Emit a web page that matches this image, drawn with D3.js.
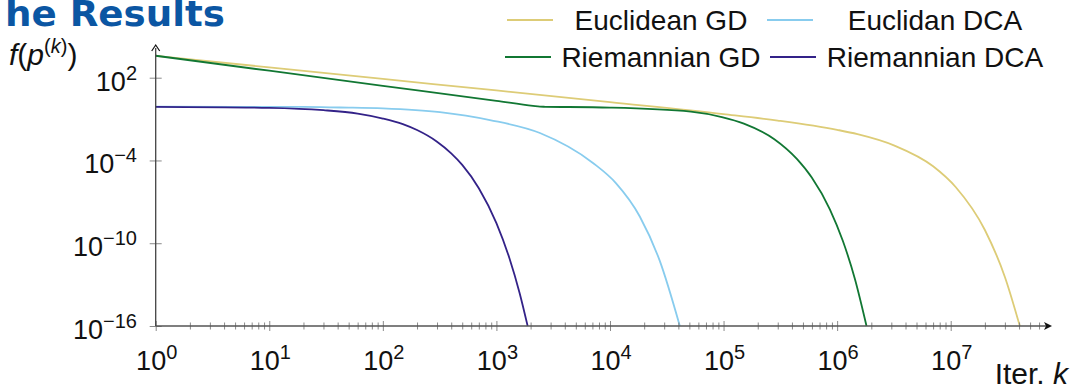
<!DOCTYPE html>
<html><head><meta charset="utf-8">
<script src="https://cdn.jsdelivr.net/npm/d3@7"></script>
<style>
body{margin:0;background:#fff}
svg{display:block}
text{font-family:"Liberation Sans",Arial,sans-serif;fill:#111}
</style>
</head><body>
<svg id="chart" width="1072" height="390"></svg>
<script>
// ---------------- data ----------------
const seriesNames  = ["Euclidean GD", "Euclidan DCA", "Riemannian GD", "Riemannian DCA"];
const seriesColors = ["#DDCC77", "#88CCEE", "#117733", "#332288"];

const kEuclidGD = [1, 10, 100, 1000, 10000, 100000, 300000, 1000000, 1510000, 3200000, 7000000, 11100000, 20000000, 30000000, 40600000];
const fEuclidGD = [3.9e3, 5.6e2, 8.1e1, 1.2e1, 1.69, 2.3e-1, 7.8e-2, 1.66e-2, 8.1e-3, 1.2e-3, 3.8e-5, 1.15e-6, 9.1e-10, 3.6e-13, 1e-16];

const kEuclidDCA = [1, 20, 42, 100, 318, 877, 2415, 7080, 11270, 18300, 27500, 41200];
const fEuclidDCA = [7.9e-1, 7.6e-1, 6.9e-1, 6.0e-1, 3.2e-1, 8.5e-2, 9.8e-3, 6.6e-5, 2.3e-6, 8.7e-9, 5.0e-12, 1e-16];

const kRiemGD = [1, 10, 100, 1000, 2100, 2415, 2700, 10000, 51500, 96600, 151000, 280000, 442000, 598000, 863000, 1122000, 1432000, 1815000];
const fRiemGD = [3.9e3, 3.2e2, 2.6e1, 2.1, 9.0e-1, 7.9e-1, 7.8e-1, 6.8e-1, 3.5e-1, 1.4e-1, 4.7e-2, 3.5e-3, 1.3e-4, 5.8e-6, 2.9e-8, 1.5e-10, 2.7e-13, 1e-16];

const kRiemDCA = [1, 10, 30, 60, 100, 150, 200, 300, 400, 500, 700, 1000, 1300, 1600, 1884];
const fRiemDCA = [7.8e-1, 6.5e-1, 4.4e-1, 2.5e-1, 1.1e-1, 4.3e-2, 1.6e-2, 2.3e-3, 3.3e-4, 4.8e-5, 9.8e-7, 2.9e-9, 8.5e-12, 2.5e-14, 1e-16];

const xMajorExps = [0, 1, 2, 3, 4, 5, 6, 7];
const yMajorExps = [2, -4, -10, -16];
const titleText = "he Results";
const xLabel = "Iter. ";
// ----------------------------------------------------------------

const series = [
  {k: kEuclidGD, f: fEuclidGD},
  {k: kEuclidDCA, f: fEuclidDCA},
  {k: kRiemGD, f: fRiemGD},
  {k: kRiemDCA, f: fRiemDCA}
];

const svg = d3.select("#chart");
const x0 = 155.7, y0 = 326;
const x = d3.scaleLog().domain([1, 1e7]).range([x0, 950.7]);
const y = d3.scaleLog().domain([1e-16, 1e2]).range([y0, 77.7]);
const xEnd = 1052, yTop = 45;

// title
svg.append("text").attr("x", 5).attr("y", 26)
  .attr("textLength", 220).attr("lengthAdjust", "spacingAndGlyphs")
  .style("font-family", "'DejaVu Sans',sans-serif").style("font-weight", "bold")
  .style("font-size", "35px").style("fill", "#0b56a3").text(titleText);

// data lines
const line = d3.line().x(d => x(d[0])).y(d => y(d[1])).curve(d3.curveMonotoneX);
series.forEach((s, i) => {
  const pts = s.k.map((k, j) => [k, s.f[j]]);
  svg.append("path").datum(pts).attr("d", line)
    .attr("fill", "none").attr("stroke", seriesColors[i]).attr("stroke-width", 1.8)
    .attr("stroke-linejoin", "round");
});

// x axis: major + minor ticks via d3 axis
const majorVals = xMajorExps.map(e => Math.pow(10, e));
const minorVals = [];
for (let e = 0; e <= 7; e++) for (let m = 2; m <= 9; m++) {
  const v = m * Math.pow(10, e);
  if (x(v) < xEnd - 10) minorVals.push(v);
}
const gx = svg.append("g").attr("transform", `translate(0,${y0})`);
gx.call(d3.axisBottom(x).tickValues(majorVals).tickSize(5).tickFormat(""));
gx.select(".domain").remove();
gx.selectAll(".tick line").attr("y1", -5).attr("y2", 5).attr("stroke", "#8a8a8a");
const gxm = svg.append("g").attr("transform", `translate(0,${y0})`);
gxm.call(d3.axisBottom(x).tickValues(minorVals).tickSize(3.5).tickFormat(""));
gxm.select(".domain").remove();
gxm.selectAll(".tick line").attr("y1", -3.5).attr("y2", 3.5).attr("stroke", "#8a8a8a");

// y axis ticks
const gy = svg.append("g").attr("transform", `translate(${x0},0)`);
gy.call(d3.axisLeft(y).tickValues(yMajorExps.map(e => Math.pow(10, e))).tickSize(6).tickFormat(""));
gy.select(".domain").remove();
gy.selectAll(".tick line").attr("x1", -6).attr("x2", 6).attr("stroke", "#8a8a8a");

// axis lines with arrows
svg.append("line").attr("x1", x0).attr("x2", xEnd - 4).attr("y1", y0).attr("y2", y0)
  .attr("stroke", "#555").attr("stroke-width", 1.3);
svg.append("path").attr("d", `M${xEnd},${y0} L${xEnd-8},${y0-4} L${xEnd-6},${y0} L${xEnd-8},${y0+4} Z`).attr("fill", "#111");
svg.append("line").attr("x1", x0).attr("x2", x0).attr("y1", y0).attr("y2", yTop + 3)
  .attr("stroke", "#444").attr("stroke-width", 1.3);
svg.append("path").attr("d", `M${x0-4},${yTop+6} L${x0},${yTop} L${x0+4},${yTop+6}`)
  .attr("fill", "none").attr("stroke", "#111").attr("stroke-width", 1.2);

// tick labels
const fmtExp = e => (e < 0 ? "\u2212" + Math.abs(e) : String(e));
xMajorExps.forEach(e => {
  const t = svg.append("text").attr("x", x(Math.pow(10, e)) + 1).attr("y", y0 + 44)
    .attr("text-anchor", "middle").style("font-size", "27px");
  t.append("tspan").text("10");
  t.append("tspan").attr("dy", -11).style("font-size", "20px").text(fmtExp(e));
});
yMajorExps.forEach(e => {
  const t = svg.append("text").attr("x", 137).attr("y", y(Math.pow(10, e)) + 13)
    .attr("text-anchor", "end").style("font-size", "27px");
  t.append("tspan").text("10");
  t.append("tspan").attr("dy", -11).style("font-size", "20px").text(fmtExp(e));
});

// y label f(p^(k))
const yl = svg.append("text").attr("x", 9).attr("y", 65).style("font-size", "30px");
yl.append("tspan").style("font-style", "italic").text("f");
yl.append("tspan").text("(");
yl.append("tspan").style("font-style", "italic").text("p");
yl.append("tspan").attr("dy", -12).style("font-size", "20px").text("(");
yl.append("tspan").style("font-size", "20px").style("font-style", "italic").text("k");
yl.append("tspan").style("font-size", "20px").text(")");
yl.append("tspan").attr("dy", 12).text(")");

// x label
const xl = svg.append("text").attr("x", 1068).attr("y", 384).attr("text-anchor", "end").style("font-size", "30px");
xl.append("tspan").text(xLabel);
xl.append("tspan").style("font-style", "italic").text("k");

// legend (2 columns)
const legendCells = [
  {lx: 507, ly: 20, tx: 661, i: 0},
  {lx: 767, ly: 20, tx: 935, i: 1},
  {lx: 505, ly: 57, tx: 661, i: 2},
  {lx: 770, ly: 57, tx: 935, i: 3}
];
legendCells.forEach(c => {
  svg.append("line").attr("x1", c.lx).attr("x2", c.lx + 46).attr("y1", c.ly).attr("y2", c.ly)
    .attr("stroke", seriesColors[c.i]).attr("stroke-width", 1.8);
  svg.append("text").attr("x", c.tx).attr("y", c.ly + 10).attr("text-anchor", "middle")
    .style("font-size", "28px").text(seriesNames[c.i]);
});
</script>
</body></html>
